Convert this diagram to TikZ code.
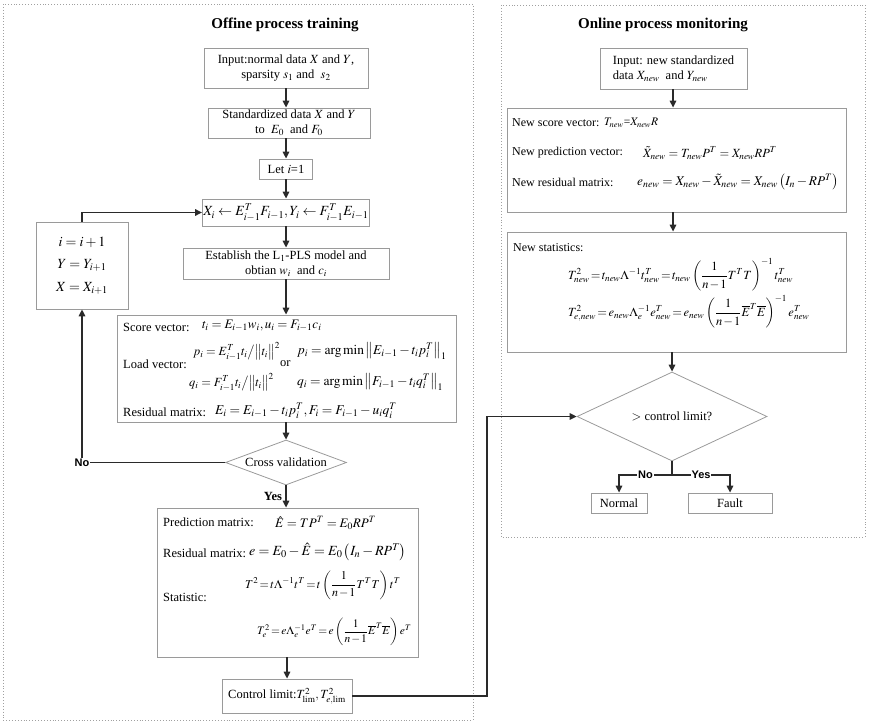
\documentclass[tikz,border=0pt]{standalone}
\usepackage{mathptmx}
\usepackage{fontspec}
\setmainfont{Liberation Serif}
\newfontfamily\lsans{Liberation Sans}
\usetikzlibrary{shapes.geometric,arrows.meta}
\definecolor{boxgray}{HTML}{9A9A9A}
\definecolor{linegray}{HTML}{2A2A2A}
\definecolor{framegray}{HTML}{A0A0A0}
\newcommand{\tightmath}{\thickmuskip=2mu plus 1mu\medmuskip=1.5mu plus 1mu}
\begin{document}
\begin{tikzpicture}[x=1pt,y=-1pt,
  every node/.style={font=\fontsize{12.5}{15}\selectfont},
  box/.style={draw=boxgray, line width=0.8pt, inner sep=2pt, align=center},
  dia/.style={diamond, draw=boxgray, line width=0.8pt, inner sep=0pt, align=center},
  arr/.style={draw=linegray, line width=1.5pt, -{Triangle[length=7pt,width=6.5pt]}},
  ln/.style={draw=linegray, line width=1.5pt},
  frame/.style={draw=framegray, dotted, line width=0.9pt},
  ttl/.style={font=\fontsize{15}{18}\selectfont\bfseries},
  lab/.style={font=\lsans\fontsize{11}{13}\selectfont\bfseries, fill=white, inner sep=1pt},
  txt/.style={anchor=west, inner sep=0pt},
  rtxt/.style={anchor=west, inner sep=0pt, font=\fontsize{12}{14}\selectfont},
  mth/.style={anchor=west, inner sep=0pt, font=\fontsize{13}{15}\selectfont},
  sm/.style={anchor=west, inner sep=0pt, font=\fontsize{13}{15}\selectfont},
]
\useasboundingbox (0,0) rectangle (869,722);
% frames
\draw[frame] (3,4) rectangle (473,720);
\draw[frame] (501,5) rectangle (865,537);
% titles
\node[ttl] (t1) at (285,25) {Offine process training};
\node[ttl] (t2) at (663,25) {Online process monitoring};

% ---------------- left column
\node[box, minimum width=164pt, minimum height=40pt] (in1) at (286,68)
  {Input:normal data $X$ and $Y$,\\ sparsity $s_1$ and \ $s_2$};
\node[box, minimum width=162pt, minimum height=30pt, inner sep=1pt] (std) at (289,123)
  {Standardized data $X$ and $Y$\\ to \ $E_0$ \ and $F_0$};
\node[box, minimum width=53pt, minimum height=20pt] (let) at (286,169) {Let $i$=1};
\node[box, minimum width=164pt, minimum height=27pt, inner sep=1pt, font=\fontsize{14}{17}\selectfont] (xi) at (286,212.5)
  {$X_i \leftarrow E_{i-1}^T F_{i-1}, Y_i \leftarrow F_{i-1}^T E_{i-1}$};
\node[box, minimum width=92pt, minimum height=87pt, font=\fontsize{14}{22.5}\selectfont] (iplus) at (82,265.5)
  {$i=i+1$\\ $Y=Y_{i+1}$\\ $X=X_{i+1}$};
\node[box, minimum width=206pt, minimum height=31pt, inner sep=1pt] (est) at (286,263.5)
  {Establish the L$_1$-PLS model and\\ obtian $w_i$ \ and $c_i$};
\node[box, minimum width=339pt, minimum height=107pt] (b7) at (286.5,368.5) {};
\node[txt] (sv) at (123,327) {Score vector:};
\node[sm] (svm) at (202,326) {$t_i = E_{i-1}w_i, u_i = F_{i-1}c_i$};
\node[txt] (lv) at (123,364) {Load vector:};
\node[sm, font=\fontsize{12.5}{15}\selectfont] (p1) at (193,351) {$p_i = E_{i-1}^T t_i \big/ \big\| t_i \big\|^2$};
\node[txt] (or) at (280,364) {or};
\node[sm, font=\fontsize{13.5}{15}\selectfont] (p2) at (297,351) {$p_i = \arg\min \left\| E_{i-1} - t_i p_i^T \right\|_1$};
\node[sm, font=\fontsize{12.5}{15}\selectfont] (q1) at (189,382) {$q_i = F_{i-1}^T t_i \big/ \big\| t_i \big\|^2$};
\node[sm, font=\fontsize{13.5}{15}\selectfont] (q2) at (297,382) {$q_i = \arg\min \left\| F_{i-1} - t_i q_i^T \right\|_1$};
\node[txt] (rm) at (123,412) {Residual matrix:};
\node[sm, font=\fontsize{13.5}{15}\selectfont] (rmm) at (215,411) {$E_i = E_{i-1} - t_i p_i^T, F_i = F_{i-1} - u_i q_i^T$};

\node[dia, minimum width=121pt, minimum height=45pt, aspect=2.7] (cv) at (286,462.5) {Cross validation};

\node[box, minimum width=261pt, minimum height=149pt] (pred) at (287.5,582.5) {};
\node[txt] (pm) at (163,522) {Prediction matrix:};
\node[mth] (pmm) at (275,523) {$\hat{E} = TP^T = E_0RP^T$};
\node[txt] (rm2) at (163,553) {Residual matrix:};
\node[mth, font=\fontsize{14}{16}\selectfont] (rmm2) at (249,552) {$e = E_0 - \hat{E} = E_0\left(I_n - RP^T\right)$};
\node[txt] (st) at (163,597) {Statistic:};
\node[mth, font=\fontsize{12}{14}\selectfont] (st1) at (245,585) {$\tightmath\displaystyle T^2 = t\Lambda^{-1}t^T = t\left(\frac{1}{n-1}T^TT\right)t^T$};
\node[mth, font=\fontsize{11.5}{14}\selectfont] (st2) at (257,632) {$\tightmath\displaystyle T_e^2 = e\Lambda_e^{-1}e^T = e\left(\frac{1}{n-1}\overline{E}^T\overline{E}\right)e^T$};

\node[box, minimum width=130pt, minimum height=34pt] (ctl) at (287,696)
  {Control limit:$T^2_{\lim}, T^2_{e,\lim}$};

% ---------------- right column
\node[box, minimum width=147pt, minimum height=41pt, align=left] (rin) at (673.5,68.5)
  {Input: new standardized\\ data $X_{new}$ \ and $Y_{new}$};
\node[box, minimum width=339pt, minimum height=104pt] (rsc) at (676.5,160) {};
\node[rtxt] (ns) at (512,123) {New score vector:};
\node[txt, font=\fontsize{11.5}{13}\selectfont] (nsm) at (604,123) {$T_{new}$=$X_{new}R$};
\node[rtxt] (np) at (512,153) {New prediction vector:};
\node[mth, font=\fontsize{12.5}{15}\selectfont] (npm) at (643,153) {$\tilde{X}_{new} = T_{new}P^T = X_{new}RP^T$};
\node[rtxt] (nr) at (512,182) {New residual matrix:};
\node[mth, font=\fontsize{13.3}{15}\selectfont] (nrm) at (637,182) {$e_{new} = X_{new} - \tilde{X}_{new} = X_{new}\left(I_n - RP^T\right)$};

\node[box, minimum width=339pt, minimum height=120pt] (rst) at (676.5,292) {};
\node[rtxt] (nst) at (513,248) {New statistics:};
\node[mth, font=\fontsize{12.5}{14}\selectfont] (nst1) at (568,275) {$\tightmath\displaystyle T^2_{new} = t_{new}\Lambda^{-1}t^T_{new} = t_{new}\left(\frac{1}{n-1}T^TT\right)^{-1}t^T_{new}$};
\node[mth, font=\fontsize{12.5}{14}\selectfont] (nst2) at (568,312) {$\tightmath\displaystyle T^2_{e,new} = e_{new}\Lambda_e^{-1}e^T_{new} = e_{new}\left(\frac{1}{n-1}\overline{E}^T\overline{E}\right)^{-1}e^T_{new}$};

\node[dia, minimum width=190pt, minimum height=89pt, aspect=2.13] (rd) at (672,416.5) {$>$ control limit?};
\node[box, minimum width=56pt, minimum height=20pt] (nor) at (619,503) {Normal};
\node[box, minimum width=84pt, minimum height=20pt] (flt) at (730,503) {Fault};

% ---------------- connectors
\draw[arr] (in1.south) -- (in1.south |- std.north);
\draw[arr] (std.south -| let.north) -- (let.north);
\draw[arr] (let.south) -- (xi.north);
\draw[arr] (xi.south) -- (est.north);
\draw[arr] (est.south) -- (est.south |- b7.north);
\draw[arr] (b7.south -| cv.north) -- (cv.north);
\draw[arr] (cv.west) -| node[lab, pos=0.5] {No} (iplus.south);
\draw[arr] (iplus.north) |- (xi.west);
\draw[arr] (cv.south) -- node[left, font=\fontsize{12.5}{15}\selectfont\bfseries] {Yes} (cv.south |- pred.north);
\draw[arr] (pred.south -| ctl.north) -- (ctl.north);
\coordinate (c1) at (487,696);
\draw[arr] (ctl.east) -- (c1) |- (rd.west);

\coordinate (rx) at (673,0);
\draw[arr] (rin.south -| rx) -- (rsc.north -| rx);
\draw[arr] (rsc.south -| rx) -- (rst.north -| rx);
\draw[arr] (rst.south -| rd.north) -- (rd.north);
\coordinate (br) at (672,475);
\draw[ln] (rd.south) -- (br);
\draw[arr] (br) -| node[lab, pos=0.25] {No} (nor.north);
\draw[arr] (br) -| node[lab, pos=0.25] {Yes} (flt.north);
\end{tikzpicture}
\end{document}
